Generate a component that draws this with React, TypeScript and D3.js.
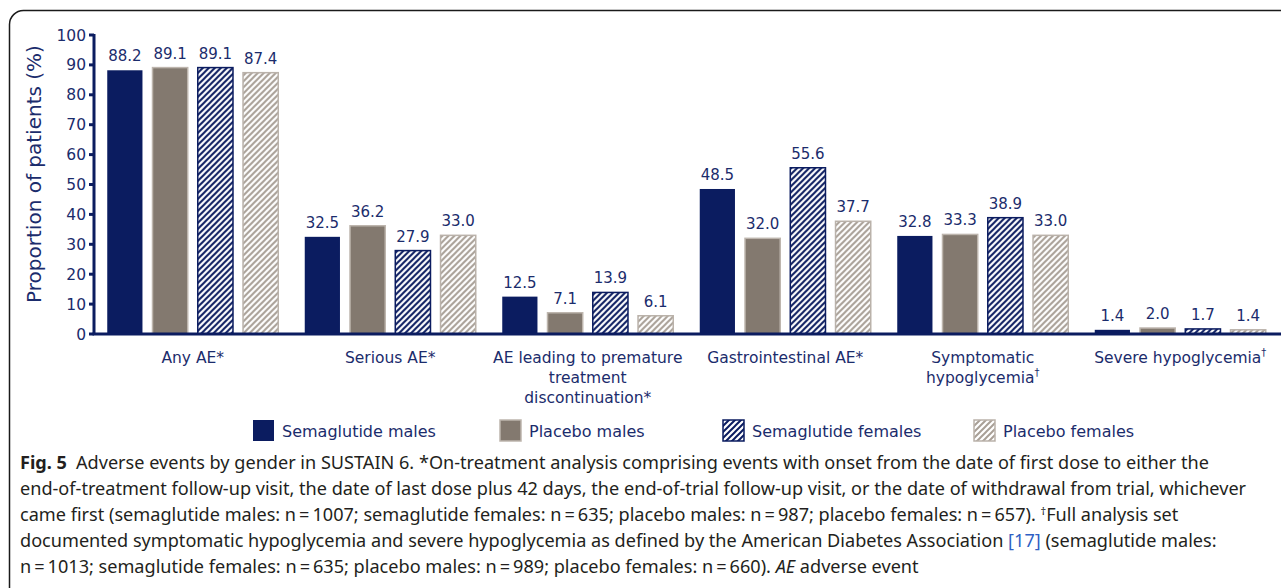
import * as d3 from "d3";
import { useLayoutEffect, useRef, useState } from "react";

const W = 1281;
const H = 588;

// chart data
const categories = ["anyAE", "serious", "discont", "gi", "symptomatic", "severe"];
const categoryLines = [
  ["Any AE*"],
  ["Serious AE*"],
  ["AE leading to premature", "treatment", "discontinuation*"],
  ["Gastrointestinal AE*"],
  ["Symptomatic", "hypoglycemia†"],
  ["Severe hypoglycemia†"],
];
const series = ["Semaglutide males", "Placebo males", "Semaglutide females", "Placebo females"];
const semaMales = [88.2, 32.5, 12.5, 48.5, 32.8, 1.4];
const placeboMales = [89.1, 36.2, 7.1, 32.0, 33.3, 2.0];
const semaFemales = [89.1, 27.9, 13.9, 55.6, 38.9, 1.7];
const placeboFemales = [87.4, 33.0, 6.1, 37.7, 33.0, 1.4];
const yTicks = [0, 10, 20, 30, 40, 50, 60, 70, 80, 90, 100];

const allValues = [semaMales, placeboMales, semaFemales, placeboFemales];

const navy = "#0b1c60";
const textNavy = "#1b2c6c";
const gray = "#83796f";
const lightGray = "#a89f96";

const fills = [navy, gray, "url(#hatchNavy)", "url(#hatchGray)"];
const strokes = ["none", "#bdb5ad", navy, "#bab2aa"];

const font = "DejaVu Sans, Verdana, sans-serif";
const capFont = "Noto Sans, sans-serif";

// a label with a trailing dagger drawn as superscript
const Label = ({ text, x, y }: { text: string; x: number; y: number }) => {
  const dag = text.endsWith("†");
  const base = dag ? text.slice(0, -1) : text;
  return (
    <text x={x} y={y} textAnchor="middle" fontSize={15.5} fill={textNavy} fontFamily={font}>
      {base}
      {dag && (
        <tspan fontSize={10} dy={-7}>
          †
        </tspan>
      )}
    </text>
  );
};

const App = () => {
  const y = d3.scaleLinear().domain([0, 100]).range([334, 35]);
  const x0 = d3.scaleBand().domain(categories).range([94, 1279]).padding(0);
  const x1 = d3.scaleBand().domain(series).range([-85.5, 85.5]).paddingInner(0.222);

  const legendX = [253, 500, 723, 974];

  // caption is condensed horizontally so the longest line fits like the reference
  const refLine = useRef<SVGTextElement>(null);
  const [k, setK] = useState(1);
  useLayoutEffect(() => {
    if (refLine.current) {
      const w = refLine.current.getComputedTextLength();
      if (w > 0) setK(1227 / w);
    }
  }, []);

  const capLines: any[] = [
    <>
      <tspan fontWeight="bold">Fig. 5</tspan>
      {"\u2002Adverse events by gender in SUSTAIN 6. *On-treatment analysis comprising events with onset from the date of first dose to either the"}
    </>,
    <>
      {"end-of-treatment follow-up visit, the date of last dose plus 42 days, the end-of-trial follow-up visit, or the date of withdrawal from trial, whichever"}
    </>,
    <>
      {"came first (semaglutide males: n\u2009=\u20091007; semaglutide females: n\u2009=\u2009635; placebo males: n\u2009=\u2009987; placebo females: n\u2009=\u2009657). "}
      <tspan fontSize={11} dy={-6}>†</tspan>
      <tspan dy={6}>Full analysis set</tspan>
    </>,
    <>
      {"documented symptomatic hypoglycemia and severe hypoglycemia as defined by the American Diabetes Association "}
      <tspan fill="#2f5fc4">[17]</tspan>
      {" (semaglutide males:"}
    </>,
    <>
      {"n\u2009=\u20091013; semaglutide females: n\u2009=\u2009635; placebo males: n\u2009=\u2009989; placebo females: n\u2009=\u2009660). "}
      <tspan fontStyle="italic">AE</tspan>
      {" adverse event"}
    </>,
  ];

  return (
    <svg
      width={W}
      height={H}
      style={{ position: "absolute", left: 0, top: 0, background: "#fff" }}
    >
      <defs>
        <pattern id="hatchNavy" patternUnits="userSpaceOnUse" width={6} height={6}>
          <rect width={6} height={6} fill="#fff" />
          <path d="M-1,1 l2,-2 M0,6 l6,-6 M5,7 l2,-2" stroke={navy} strokeWidth={2} />
        </pattern>
        <pattern id="hatchGray" patternUnits="userSpaceOnUse" width={6} height={6}>
          <rect width={6} height={6} fill="#fff" />
          <path d="M-1,1 l2,-2 M0,6 l6,-6 M5,7 l2,-2" stroke={lightGray} strokeWidth={2} />
        </pattern>
      </defs>

      <rect x={9.5} y={10.5} width={1300} height={600} rx={14} fill="none" stroke="#1a1a1a" strokeWidth={1.5} />

      {/* bars */}
      {categories.map((c, ci) => (
        <g key={c} transform={`translate(${x0(c)! + x0.bandwidth() / 2},0)`}>
          {series.map((s, si) => {
            const v = allValues[si][ci];
            const bx = x1(s)!;
            return (
              <g key={s}>
                <rect
                  x={bx}
                  y={y(v)}
                  width={x1.bandwidth()}
                  height={y(0) - y(v)}
                  fill={fills[si]}
                  stroke={strokes[si]}
                  strokeWidth={1.5}
                />
                <text
                  x={bx + x1.bandwidth() / 2}
                  y={y(v) - 9}
                  textAnchor="middle"
                  fontSize={15}
                  fill={textNavy}
                  fontFamily={font}
                >
                  {v.toFixed(1)}
                </text>
              </g>
            );
          })}
        </g>
      ))}

      {/* y axis */}
      <line x1={94} x2={94} y1={y(100) - 1} y2={y(0)} stroke={navy} strokeWidth={3} />
      {yTicks.map((t) => (
        <g key={t}>
          <line x1={89} x2={94} y1={y(t)} y2={y(t)} stroke={navy} strokeWidth={3} />
          <text x={86} y={y(t) + 5.5} textAnchor="end" fontSize={15.5} fill={textNavy} fontFamily={font}>
            {t}
          </text>
        </g>
      ))}
      <line x1={92.5} x2={W} y1={y(0)} y2={y(0)} stroke={navy} strokeWidth={3} />

      <text
        transform={`translate(41,174) rotate(-90)`}
        textAnchor="middle"
        fontSize={20}
        fill={textNavy}
        fontFamily={font}
      >
        Proportion of patients (%)
      </text>

      {/* category labels */}
      {categories.map((c, ci) =>
        categoryLines[ci].map((ln, li) => (
          <Label key={c + li} text={ln} x={x0(c)! + x0.bandwidth() / 2} y={363 + li * 20} />
        ))
      )}

      {/* legend */}
      {series.map((s, si) => (
        <g key={s} transform={`translate(${legendX[si]},420)`}>
          <rect width={21} height={21} fill={fills[si]} stroke={strokes[si]} strokeWidth={1.5} />
          <text x={29} y={16.5} fontSize={16} fill={textNavy} fontFamily={font}>
            {s}
          </text>
        </g>
      ))}

      {/* caption */}
      <g transform={`translate(20,0) scale(${k},1)`}>
        {capLines.map((content, i) => (
          <text
            key={i}
            ref={i === 1 ? refLine : undefined}
            x={0}
            y={469 + i * 26}
            fontSize={18}
            fill="#231f20"
            fontFamily={capFont}
          >
            {content}
          </text>
        ))}
      </g>
    </svg>
  );
};

export default App;
